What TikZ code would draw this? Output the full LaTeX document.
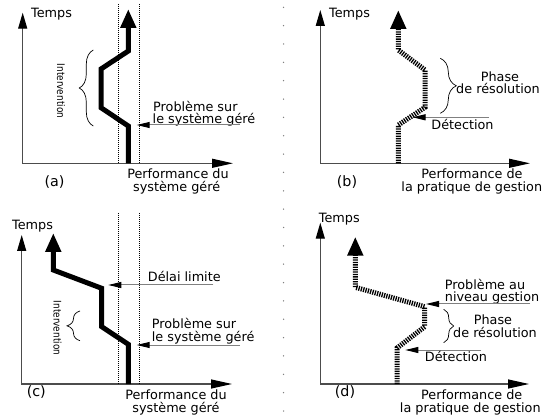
\documentclass[tikz,border=0pt]{standalone}
\usepackage{fontspec}
\setmainfont{DejaVu Sans}
\newfontfamily\etroite{DejaVu Sans}[FakeStretch=0.85]
\usetikzlibrary{arrows.meta,decorations.pathreplacing}

\begin{document}
\begin{tikzpicture}[x=1pt,y=1pt,
  every node/.style={inner sep=0pt,font=\fontsize{12.8}{14}\selectfont},
  axe/.style={draw=gray!60!black,line width=1.2pt,
    {Triangle[length=16pt,width=9pt,color=black]}-{Triangle[length=21pt,width=9pt,color=black]}},
  courbe/.style={line width=5pt,-{Triangle[length=19pt,width=15pt]}},
  courbept/.style={courbe,dash pattern=on 1.3pt off 1.1pt},
  fleche/.style={draw=gray,line width=1pt,-{Triangle[length=13pt,width=6pt,color=black]}},
  limite/.style={line width=0.8pt,dash pattern=on 1pt off 1pt},
  accolade/.style={decorate,decoration={brace,amplitude=#1},line width=0.7pt},
  etiquette/.style={font=\fontsize{14.3}{16}\selectfont},
  vertical/.style={rotate=-90,font=\etroite\fontsize{10.5}{11}\selectfont}]

\useasboundingbox (0,0) rectangle (543,-419);

% separation
\foreach \k in {0,...,22}
  \fill[gray] (283.5,-7.3-18.35*\k) circle (0.75pt);

%%% (a)
\coordinate (ya) at (22.7,-12.7);
\coordinate (oa) at (22.7,-163.3);
\coordinate (xa) at (233,-163.3);
\draw[axe] (ya) -- (oa) -- (xa);
\draw[limite] (118.3,-4) -- (118.3,-163.3);
\draw[limite] (139.3,-4) -- (139.3,-163.3);
\coordinate (a0) at (128.3,-163.3);
\coordinate (a1) at (128.3,-126);
\coordinate (a2) at (101,-107.7);
\coordinate (a3) at (101,-69);
\coordinate (a4) at (128.3,-51);
\coordinate (a5) at (128.3,-9);
\draw[courbe] (a0) -- (a1) -- (a2) -- (a3) -- (a4) -- (a5);
\draw[accolade=14pt] (93.3,-126) -- (93.3,-50);
\node[anchor=base west] (tempsA) at (31,-17.5) {Temps};
\node[vertical] (intervA) at (61,-91) {Intervention};
\node[anchor=base west] (probA1) at (153,-111.3) {Problème sur};
\node[anchor=base west] (probA2) at (152.5,-123.8) {le système géré};
\coordinate (probAs) at (240,-125);
\coordinate (probAt) at (136.7,-125);
\draw[fleche] (probAs) -- (probAt);
\node[etiquette] (lblA) at (54.5,-182) {(a)};
\node[anchor=base] (perfA1) at (178,-178.3) {Performance du};
\node[anchor=base] (perfA2) at (176.7,-191.7) {système géré};

%%% (b)
\coordinate (yb) at (320.3,-10);
\coordinate (ob) at (320.3,-163.3);
\coordinate (xb) at (530,-163.3);
\draw[axe] (yb) -- (ob) -- (xb);
\coordinate (b0) at (398.3,-163.3);
\coordinate (b1) at (398.3,-125);
\coordinate (b2) at (425,-107.3);
\coordinate (b3) at (425,-70);
\coordinate (b4) at (398.3,-50);
\coordinate (b5) at (398.3,-10);
\draw[courbept] (b0) -- (b1) -- (b2) -- (b3) -- (b4) -- (b5);
\draw[accolade=16pt] (440.3,-58.3) -- (440.3,-113.3);
\node[anchor=base west] (tempsB) at (329,-17.5) {Temps};
\node[anchor=base] (phaseB1) at (500,-81.7) {Phase};
\node[anchor=base] (phaseB2) at (498,-94) {de résolution};
\coordinate (detBs) at (489,-117.3);
\coordinate (detBt) at (412.5,-117.3);
\draw[fleche] (detBs) -- (detBt);
\node[anchor=base] (detB) at (462.5,-130) {Détection};
\node[etiquette] (lblB) at (347,-182) {(b)};
\node[anchor=base] (perfB1) at (472,-178.3) {Performance de};
\node[anchor=base] (perfB2) at (471.8,-192) {la pratique de gestion};

%%% (c)
\coordinate (yc) at (21.7,-235);
\coordinate (oc) at (21.7,-384);
\coordinate (xc) at (232,-384);
\draw[axe] (yc) -- (oc) -- (xc);
\draw[limite] (118.3,-213) -- (118.3,-384);
\draw[limite] (139.3,-213) -- (139.3,-384);
\coordinate (c0) at (128.3,-384);
\coordinate (c1) at (128.3,-344.3);
\coordinate (c2) at (101.7,-326.7);
\coordinate (c3) at (101.7,-288.3);
\coordinate (c4) at (53.3,-270);
\coordinate (c5) at (53.3,-233);
\draw[courbe] (c0) -- (c1) -- (c2) -- (c3) -- (c4) -- (c5);
\draw[accolade=13pt] (80,-340.7) -- (80,-311);
\node[anchor=base west] (tempsC) at (12,-229.3) {Temps};
\node[vertical] (intervC) at (57.5,-328) {Intervention};
\node[anchor=base west] (delaiC) at (147.7,-281.7) {Délai limite};
\coordinate (delaiCs) at (213.3,-285);
\coordinate (delaiCt) at (108.3,-285);
\draw[fleche] (delaiCs) -- (delaiCt);
\node[anchor=base west] (probC1) at (151.7,-328.3) {Problème sur};
\node[anchor=base west] (probC2) at (151.7,-341.7) {le système géré};
\coordinate (probCs) at (240,-345);
\coordinate (probCt) at (136.7,-345);
\draw[fleche] (probCs) -- (probCt);
\node[etiquette] (lblC) at (36.3,-392) {(c)};
\node[anchor=base] (perfC1) at (176,-399) {Performance du};
\node[anchor=base] (perfC2) at (176,-412.7) {système géré};

%%% (d)
\coordinate (yd) at (320.3,-222.7);
\coordinate (od) at (320.3,-384);
\coordinate (xd) at (529,-384);
\draw[axe] (yd) -- (od) -- (xd);
\coordinate (d0) at (397,-384);
\coordinate (d1) at (397,-348);
\coordinate (d2) at (424.7,-326.7);
\coordinate (d3) at (424.7,-306.7);
\coordinate (d4) at (355.3,-287.3);
\coordinate (d5) at (355.3,-236.7);
\draw[courbept] (d0) -- (d1) -- (d2) -- (d3) -- (d4) -- (d5);
\draw[accolade=10pt] (443.7,-309.3) -- (443.7,-342.7);
\node[anchor=base west] (tempsD) at (318.7,-222.3) {Temps};
\node[anchor=base west] (probD1) at (444.7,-289.3) {Problème au};
\node[anchor=base west] (probD2) at (444.7,-301.7) {niveau gestion};
\coordinate (probDs) at (530.3,-304);
\coordinate (probDt) at (426,-304);
\draw[fleche] (probDs) -- (probDt);
\node[anchor=base] (phaseD1) at (493,-324) {Phase};
\node[anchor=base] (phaseD2) at (495,-337.7) {de résolution};
\coordinate (detDs) at (481.3,-350);
\coordinate (detDt) at (405.3,-350);
\draw[fleche] (detDs) -- (detDt);
\node[anchor=base] (detD) at (456,-361.7) {Détection};
\node[etiquette] (lblD) at (345,-392) {(d)};
\node[anchor=base] (perfD1) at (471.7,-399) {Performance de};
\node[anchor=base] (perfD2) at (470.3,-412.7) {la pratique de gestion};

\end{tikzpicture}
\end{document}
